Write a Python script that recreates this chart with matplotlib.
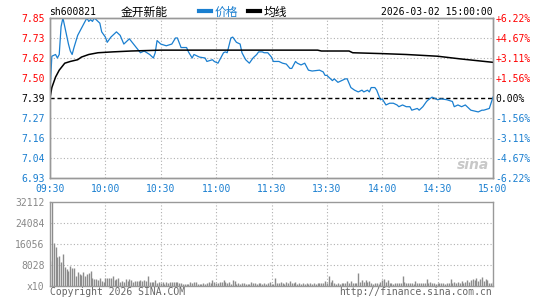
import matplotlib
matplotlib.use("Agg")
import matplotlib.pyplot as plt
import numpy as np

# ---- data (sh600821, 2026-03-02) ----
prev_close = 7.39
pct_range = 6.22

price_min = [0, 1, 3, 4, 5, 6, 7, 8, 10, 11, 12, 13, 15, 17, 18, 19, 20, 21, 22, 23,
             24, 25, 27, 28, 30, 31, 33, 34, 36, 38, 40, 43, 46, 49, 51, 54, 56, 57, 58, 60,
             63, 66, 68, 69, 71, 74, 75, 77, 78, 81, 84, 85, 88, 89, 91, 92, 94, 95, 96, 98,
             99, 101, 103, 104, 106, 108, 110, 112, 113, 115, 116, 118, 120, 121, 124, 126, 128, 130, 131, 133,
             134, 136, 138, 140, 142, 146, 148, 149, 150, 153, 154, 156, 158, 160, 161, 163, 165, 167, 169, 170,
             172, 173, 174, 176, 177, 179, 180, 182, 184, 186, 188, 189, 191, 193, 195, 196, 199, 200, 202, 204,
             205, 207, 208, 210, 212, 215, 218, 219, 221, 223, 225, 226, 228, 230, 232, 234, 235, 238, 240]
price = [7.43, 7.63, 7.64, 7.62, 7.64, 7.80, 7.85, 7.80, 7.70, 7.66, 7.64, 7.68, 7.75, 7.79, 7.81, 7.83, 7.85, 7.83, 7.84, 7.83,
         7.85, 7.84, 7.82, 7.77, 7.74, 7.71, 7.74, 7.75, 7.77, 7.75, 7.70, 7.73, 7.69, 7.65, 7.66, 7.64, 7.62, 7.65, 7.72, 7.70,
         7.69, 7.70, 7.735, 7.735, 7.68, 7.68, 7.655, 7.62, 7.64, 7.625, 7.62, 7.60, 7.61, 7.60, 7.59, 7.61, 7.65, 7.655, 7.65, 7.735,
         7.74, 7.71, 7.70, 7.65, 7.61, 7.59, 7.62, 7.64, 7.655, 7.655, 7.65, 7.65, 7.625, 7.60, 7.60, 7.59, 7.585, 7.56, 7.56, 7.60,
         7.59, 7.58, 7.59, 7.55, 7.545, 7.55, 7.54, 7.52, 7.52, 7.49, 7.50, 7.48, 7.49, 7.50, 7.50, 7.45, 7.435, 7.425, 7.435, 7.425,
         7.435, 7.425, 7.45, 7.45, 7.435, 7.38, 7.385, 7.35, 7.36, 7.36, 7.35, 7.34, 7.35, 7.34, 7.34, 7.32, 7.33, 7.32, 7.34, 7.37,
         7.38, 7.395, 7.39, 7.38, 7.385, 7.38, 7.37, 7.34, 7.35, 7.34, 7.35, 7.34, 7.32, 7.315, 7.31, 7.32, 7.32, 7.33, 7.395]

avg_min = [0, 1, 3, 5, 8, 11, 15, 17, 21, 26, 34, 44, 60, 145, 147, 162, 164, 180, 193, 210, 222, 240]
avg_price = [7.39, 7.45, 7.51, 7.55, 7.59, 7.60, 7.61, 7.625, 7.64, 7.65, 7.655, 7.66, 7.665, 7.665, 7.66,
             7.66, 7.65, 7.645, 7.64, 7.63, 7.615, 7.595]

volume = [
    9400, 32112, 16200, 14900, 11100, 11300, 9200, 12100, 7300, 6400,
    5600, 7500, 6700, 6900, 3800, 5400, 4500, 4100, 5100, 3700,
    4500, 5000, 5600, 2800, 2500, 2400, 2000, 3100, 1900, 1300,
    3100, 2800, 2900, 2800, 3700, 2200, 2500, 3100, 1300, 1800,
    1300, 2400, 1800, 2400, 2000, 1300, 1800, 1800, 1800, 2200,
    1800, 2300, 1800, 3700, 1300, 1500, 1500, 2200, 1100, 1500,
    900, 1300, 800, 1300, 900, 1300, 1300, 1300, 1300, 1300,
    1000, 1000, 600, 600, 600, 600, 1300, 1000, 1300, 1300,
    500, 600, 600, 1000, 800, 1000, 1300, 900, 2200, 1300,
    1000, 1100, 1300, 1500, 2200, 1300, 900, 1300, 800, 2200,
    1800, 800, 1000, 800, 1000, 1000, 800, 600, 600, 1300,
    1000, 1000, 600, 900, 1000, 800, 900, 800, 1000, 1500,
    600, 800, 3100, 1200, 900, 1500, 1100, 800, 1300, 1000,
    1900, 900, 1200, 1400, 800, 1000, 800, 900, 700, 900,
    800, 1000, 700, 900, 800, 1000, 900, 1100, 900, 1900,
    1200, 3700, 1400, 2200, 900, 800, 1000, 800, 900, 1000,
    1200, 1800, 1200, 1900, 1000, 1200, 900, 4700, 1600, 2000,
    1500, 2200, 1300, 1700, 900, 800, 1000, 900, 700, 1600,
    2300, 2400, 1600, 2200, 900, 1000, 800, 1200, 900, 1000,
    1100, 3700, 1300, 1100, 900, 1200, 1000, 800, 1700, 1000,
    1200, 900, 1000, 1200, 2500, 1100, 1300, 900, 1000, 800,
    1100, 900, 1000, 1200, 800, 1000, 900, 2500, 1000, 1300,
    900, 1500, 1000, 1800, 1100, 1500, 2000, 1300, 2200, 2600,
    2000, 3000, 1800, 2400, 3200, 1700, 2600, 2000, 1200, 900,
    1300,
]

time_labels = ["09:30", "10:00", "10:30", "11:00", "11:30", "13:30", "14:00", "14:30", "15:00"]
price_labels = ["7.85", "7.73", "7.62", "7.50", "7.39", "7.27", "7.16", "7.04", "6.93"]
pct_labels = ["+6.22%", "+4.67%", "+3.11%", "+1.56%", "0.00%", "-1.56%", "-3.11%", "-4.67%", "-6.22%"]
vol_labels = ["32112", "24084", "16056", "8028", "x10"]
vol_max = 32112

RED = "#ff0000"
BLUE = "#1a7fd0"
FRAME = "#999999"
GRID = "#b0b0b0"
MONO = "DejaVu Sans Mono"
CJK = "Noto Sans CJK SC"

fig = plt.figure(figsize=(5.45, 3.0), dpi=100)
ax = fig.add_axes([50 / 545, 122 / 300, 443 / 545, 160 / 300])
axv = fig.add_axes([50 / 545, 14.3 / 300, 443 / 545, 84 / 300])

lo = prev_close * (1 - pct_range / 100)
hi = prev_close * (1 + pct_range / 100)
yt = np.linspace(hi, lo, 9)
xt = np.arange(0, 241, 30)

# price panel
ax.set_xlim(0, 240)
ax.set_ylim(lo, hi)
for y in yt[1:-1]:
    if abs(y - prev_close) > 1e-6:
        ax.axhline(y, color=GRID, lw=0.8, ls=(0, (1, 2)), zorder=1)
for x in xt[1:-1]:
    ax.axvline(x, color=GRID, lw=0.8, ls=(0, (1, 2)), zorder=1)
ax.axhline(prev_close, color="black", lw=1.0, ls=(0, (3, 2)), zorder=2)
l_price, = ax.plot(price_min, price, color=BLUE, lw=0.9, zorder=3)
l_avg, = ax.plot(avg_min, avg_price, color="black", lw=1.1, zorder=4)

ax.set_xticks(xt)
ax.set_xticklabels(time_labels, family=MONO, fontsize=7, color=BLUE)
ax.set_yticks(yt)
ax.set_yticklabels(price_labels, family=MONO, fontsize=7)
ax.tick_params(length=0, pad=4)
for i, t in enumerate(ax.get_yticklabels()):
    t.set_color(RED if i < 4 else ("black" if i == 4 else BLUE))

tw = ax.twinx()
tw.set_ylim(lo, hi)
tw.set_yticks(yt)
tw.set_yticklabels(pct_labels, family=MONO, fontsize=7)
tw.tick_params(length=0, pad=2)
for i, t in enumerate(tw.get_yticklabels()):
    t.set_color(RED if i < 4 else ("black" if i == 4 else BLUE))

for a in (ax, tw, axv):
    for s in a.spines.values():
        s.set_color(FRAME)
        s.set_linewidth(1.0)

# volume panel
minutes = np.arange(len(volume))
axv.set_xlim(0, 240)
axv.set_ylim(0, vol_max)
vt = np.linspace(vol_max, 0, 5)
for y in vt[1:-1]:
    axv.axhline(y, color=GRID, lw=0.8, ls=(0, (1, 2)), zorder=1)
for x in xt[1:-1]:
    axv.axvline(x, color=GRID, lw=0.8, ls=(0, (1, 2)), zorder=1)
axv.vlines(minutes, 0, volume, color="#8c8c8c", lw=1.0, zorder=2)
axv.set_xticks([])
axv.set_yticks(vt)
axv.set_yticklabels(vol_labels, family=MONO, fontsize=7, color="#888888")
axv.tick_params(length=0, pad=4)

# header
fig.text(49 / 545, 1 - 12 / 300, "sh600821", family=MONO, fontsize=7, va="center", ha="left")
fig.text(121 / 545, 1 - 12 / 300, "金开新能", family=CJK, fontsize=8.5, va="center", ha="left")
fig.text(493 / 545, 1 - 12 / 300, "2026-03-02 15:00:00", family=MONO, fontsize=7, va="center", ha="right")
leg = fig.legend([l_price, l_avg], ["价格", "均线"], loc="center left",
                 bbox_to_anchor=(199 / 545, 1 - 12 / 300), ncol=2, frameon=False,
                 prop={"family": CJK, "size": 8.5}, handlelength=1.0, handletextpad=0.3,
                 columnspacing=0.9, borderpad=0, borderaxespad=0)
for h in leg.legend_handles:
    h.set_linewidth(3)
leg.get_texts()[0].set_color(BLUE)

# footer and watermark
fig.text(50 / 545, 1 - 292 / 300, "Copyright 2026 SINA.COM", family=MONO, fontsize=7,
         color="#666666", va="center", ha="left")
fig.text(492 / 545, 1 - 292 / 300, "http://finance.sina.com.cn", family=MONO, fontsize=7,
         color="#666666", va="center", ha="right")
fig.text(473 / 545, 1 - 165 / 300, "sina", fontsize=10, style="italic", weight="bold",
         color="#c8c8c8", va="center", ha="center")

fig.savefig("out.png", dpi=100)
